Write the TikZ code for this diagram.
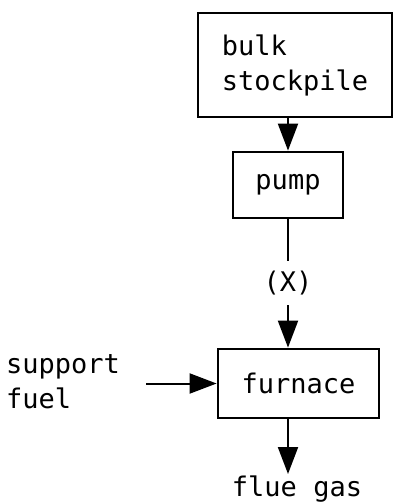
\documentclass[tikz,border=0pt]{standalone}
\usepackage{fontspec}
\setmonofont{DejaVu Sans Mono}
\usetikzlibrary{arrows.meta}
\tikzset{
  unit/.style={draw, line width=2.8pt, align=left, inner sep=0pt},
  lbl/.style={align=left, inner sep=0pt},
  flow/.style={line width=2pt, -{Triangle[width=20pt,length=27pt]}},
  feed/.style={line width=1.4pt}
}
\begin{document}
\begin{tikzpicture}[x=1pt,y=-1pt,font=\ttfamily\fontsize{27}{35}\selectfont]
\useasboundingbox (0,0) rectangle (397,503);

\node[unit, minimum width=194pt, minimum height=104pt] (bulk) at (295,65)
{bulk\\stockpile};

\node[unit, minimum width=110pt, minimum height=66pt] (pump) at (288,185) {pump};

\node[lbl] (x) at (288,283) {(X)};

\node[unit, minimum width=161pt, minimum height=69pt] (furnace) at (298.5,383.5)
{furnace};

\node[lbl, anchor=west] (fuel) at (6,382) {support\\fuel};

\node[lbl, anchor=north] (flue) at (297,476) {flue gas};

\draw[flow] (bulk.south -| pump) -- (pump.north);
\draw[feed] (pump.south) -- ([yshift=10pt]x.north);
\draw[flow] ([yshift=-10pt]x.south) -- (furnace.north -| x);
\draw[flow] ([xshift=26pt]fuel.east |- furnace.west) -- (furnace.west);
\draw[flow] (furnace.south -| x) -- ([yshift=2pt]flue.north -| x);
\end{tikzpicture}
\end{document}
